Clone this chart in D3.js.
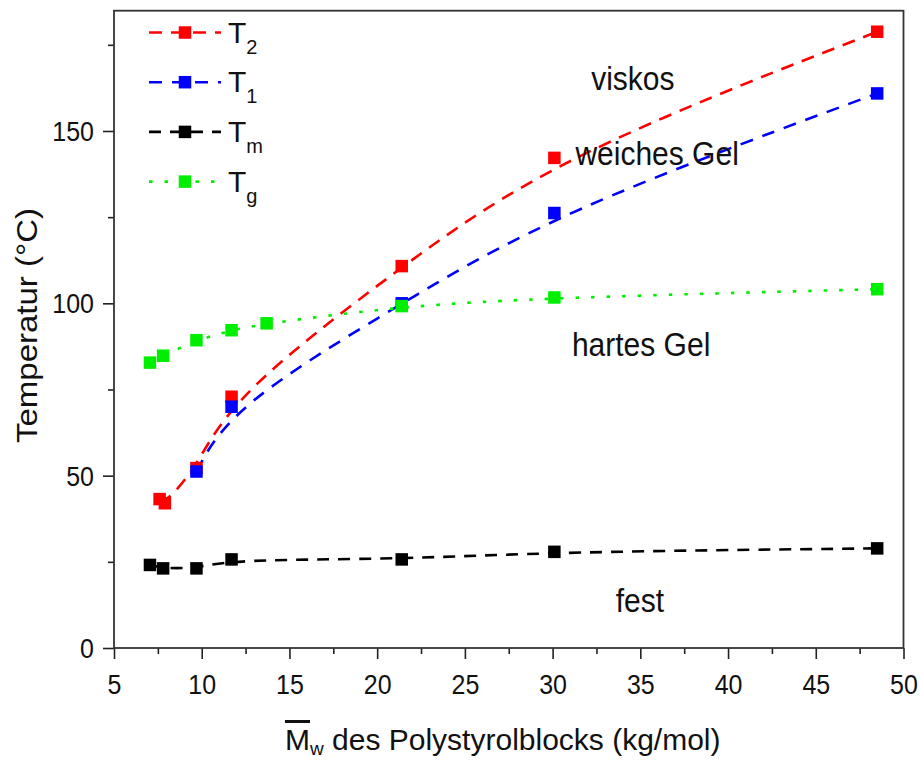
<!DOCTYPE html>
<html>
<head>
<meta charset="utf-8">
<script src="https://cdn.jsdelivr.net/npm/d3@7"></script>
<style>
 body { margin: 0; background: #fff; }
 svg text { font-family: "Liberation Sans", Arial, sans-serif; fill: #111; }
</style>
</head>
<body>
<svg id="graph"></svg>
<script>
let xT2 = [7.6, 7.9, 9.7, 11.7, 21.4, 30.1, 48.5];
let yT2 = [43.2, 42.0, 52.2, 72.9, 110.8, 142.2, 178.8];

let xT1 = [9.7, 11.7, 21.4, 30.1, 48.5];
let yT1 = [51.2, 70.0, 100.0, 126.2, 160.9];

let xTm = [7.05, 7.8, 9.7, 11.7, 21.4, 30.1, 48.5];
let yTm = [24.1, 23.1, 23.1, 25.7, 25.7, 27.9, 28.9];

let xTg = [7.05, 7.8, 9.7, 11.7, 13.7, 21.4, 30.1, 48.5];
let yTg = [82.8, 84.8, 89.3, 92.2, 94.2, 99.2, 101.7, 104.1];

let seriesNames = ["2", "1", "m", "g"];
let xTicks = [5, 10, 15, 20, 25, 30, 35, 40, 45, 50];
let yTicks = [0, 50, 100, 150];

let areaLabels = ["viskos", "weiches Gel", "hartes Gel", "fest"];
let areaX = [32.2, 31.3, 31.1, 33.6];
let areaY = [161.9, 140.1, 84.7, 10.4];

function zip(xs, ys) { return xs.map((x, i) => ({x: x, y: ys[i]})); }

let series = [
 {sub: seriesNames[0], pts: zip(xT2, yT2), color: "#ff0000", dash: "13,9"},
 {sub: seriesNames[1], pts: zip(xT1, yT1), color: "#0000ff", dash: "13,10"},
 {sub: seriesNames[2], pts: zip(xTm, yTm), color: "#000000", dash: "12,9"},
 {sub: seriesNames[3], pts: zip(xTg, yTg), color: "#00ee00", dash: "3.5,12"}
];

let width = 920, height = 760;
let marginL = 114, marginR = 16.5, marginT = 10.7, marginB = 112;
let xAxisLen = width - marginL - marginR;
let yAxisLen = height - marginT - marginB;

let svg = d3.select("#graph").attr("width", width).attr("height", height);

let scaleX = d3.scaleLinear().domain([5, 50]).range([0, xAxisLen]);
let scaleY = d3.scaleLinear().domain([0, 184.9]).range([yAxisLen, 0]);

let plot = svg.append("g").attr("transform", `translate(${marginL}, ${marginT})`);

// Achsen: Haupt- und Nebenstriche
let minorX = d3.range(7.5, 50, 5);
let minorY = d3.range(25, 185, 50);

plot.append("g")
 .attr("transform", `translate(0, ${yAxisLen})`)
 .call(d3.axisBottom(scaleX).tickValues(minorX).tickSize(6).tickFormat(""))
 .call(g => g.select(".domain").remove())
 .selectAll("line").attr("stroke", "#222").attr("stroke-width", 1.6);

let ax = plot.append("g")
 .attr("class", "x-axis")
 .attr("transform", `translate(0, ${yAxisLen})`)
 .call(d3.axisBottom(scaleX).tickValues(xTicks).tickSize(11).tickFormat(d3.format("d")));
ax.select(".domain").remove();
ax.selectAll("line").attr("stroke", "#222").attr("stroke-width", 1.6);
ax.selectAll("text")
 .attr("y", 0).attr("dy", 0)
 .attr("transform", "translate(0, 46) scale(1, 1.12)")
 .style("font-size", "25px").attr("fill", "#111");

plot.append("g")
 .call(d3.axisLeft(scaleY).tickValues(minorY).tickSize(6).tickFormat(""))
 .call(g => g.select(".domain").remove())
 .selectAll("line").attr("stroke", "#222").attr("stroke-width", 1.6);

let ay = plot.append("g")
 .attr("class", "y-axis")
 .call(d3.axisLeft(scaleY).tickValues(yTicks).tickSize(11).tickFormat(d3.format("d")));
ay.select(".domain").remove();
ay.selectAll("line").attr("stroke", "#222").attr("stroke-width", 1.6);
ay.selectAll("text")
 .attr("x", 0).attr("dy", 0)
 .attr("transform", "translate(-20, 9.5) scale(1, 1.12)")
 .style("font-size", "25px").attr("fill", "#111");

// Rahmen
plot.append("rect")
 .attr("x", 0).attr("y", 0)
 .attr("width", xAxisLen).attr("height", yAxisLen)
 .attr("fill", "none").attr("stroke", "#333").attr("stroke-width", 1.8);

// Kurven und Punkte
let line = d3.line()
 .x(d => scaleX(d.x))
 .y(d => scaleY(d.y))
 .curve(d3.curveBasis);

series.forEach(function(s) {
 plot.append("path")
  .datum(s.pts)
  .attr("d", line)
  .attr("fill", "none")
  .attr("stroke", s.color)
  .attr("stroke-width", 2.6)
  .attr("stroke-dasharray", s.dash);
});

let ms = 12.5;
series.forEach(function(s) {
 plot.selectAll(null)
  .data(s.pts)
  .enter()
  .append("rect")
  .attr("x", d => scaleX(d.x) - ms / 2)
  .attr("y", d => scaleY(d.y) - ms / 2)
  .attr("width", ms)
  .attr("height", ms)
  .attr("fill", s.color);
});

// Bereichsbeschriftungen
plot.selectAll(".area-label")
 .data(areaLabels)
 .enter()
 .append("text")
 .attr("transform", (d, i) => `translate(${scaleX(areaX[i])}, ${scaleY(areaY[i])}) scale(1, 1.08)`)
 .style("font-size", "30px")
 .text(d => d);

// Legende
let leg = svg.append("g");
series.forEach(function(s, i) {
 let cy = 32.5 + i * 49.7;
 leg.append("line")
  .attr("x1", 149).attr("x2", 221)
  .attr("y1", cy).attr("y2", cy)
  .attr("stroke", s.color)
  .attr("stroke-width", 2.6)
  .attr("stroke-dasharray", s.dash);
 leg.append("rect")
  .attr("x", 185 - ms / 2).attr("y", cy - ms / 2)
  .attr("width", ms).attr("height", ms)
  .attr("fill", s.color);
 let t = leg.append("text")
  .attr("x", 228).attr("y", cy + 10)
  .style("font-size", "30px");
 t.append("tspan").text("T");
 t.append("tspan").attr("dy", 11).style("font-size", "20px").text(s.sub);
});

// Achsentitel
svg.append("text")
 .attr("transform", "translate(37, 325.5) rotate(-90)")
 .attr("text-anchor", "middle")
 .attr("textLength", 235)
 .attr("lengthAdjust", "spacingAndGlyphs")
 .style("font-size", "30px")
 .text("Temperatur (°C)");

let xt = svg.append("text")
 .attr("x", marginL + xAxisLen / 2 - 6)
 .attr("y", 750)
 .attr("text-anchor", "middle")
 .style("font-size", "30px");
xt.append("tspan").style("text-decoration", "overline").text("M");
xt.append("tspan").attr("dy", 5).style("font-size", "19px").text("w");
xt.append("tspan").attr("dy", -5).text(" des Polystyrolblocks (kg/mol)");
</script>
</body>
</html>
